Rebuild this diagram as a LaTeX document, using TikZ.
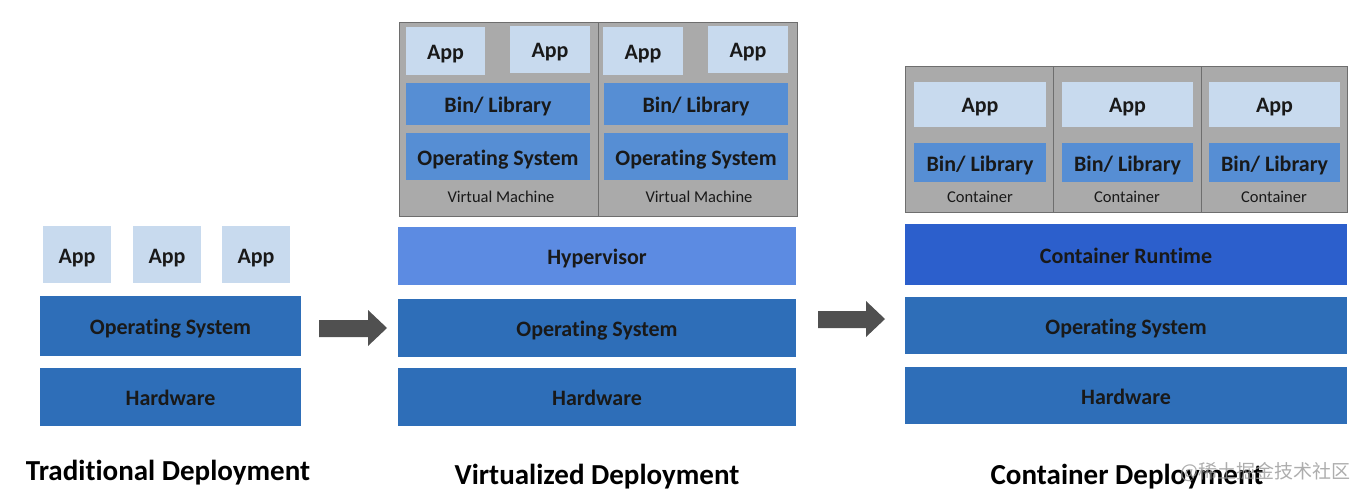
\documentclass[tikz,border=0pt]{standalone}
\usepackage{fontspec}
\setmainfont{Carlito}[Ligatures=NoCommon]
\newfontfamily\cjkfont{Noto Sans CJK SC}
\definecolor{appc}{RGB}{200,218,238}
\definecolor{binc}{RGB}{86,142,212}
\definecolor{osc}{RGB}{46,110,184}
\definecolor{hypc}{RGB}{92,139,226}
\definecolor{rtc}{RGB}{44,95,204}
\definecolor{vmc}{RGB}{170,170,170}
\definecolor{vmline}{RGB}{110,110,110}
\definecolor{arrc}{RGB}{80,80,80}
\begin{document}
\begin{tikzpicture}[x=1pt,y=-1pt,
  blk/.style={anchor=north west,inner sep=0pt,outer sep=0pt,font=\bfseries\fontsize{22}{24}\selectfont,text=black!90,text height=17pt,text depth=0pt},
  appbox/.style={blk,fill=appc},
  binbox/.style={blk,fill=binc},
  osbox/.style={blk,fill=osc},
  hypbox/.style={blk,fill=hypc},
  rtbox/.style={blk,fill=rtc},
  vmbox/.style={anchor=north west,inner sep=0pt,outer sep=0pt,fill=vmc,draw=vmline,line width=0.8pt},
  small/.style={font=\fontsize{16.5}{18}\selectfont,text=black!90,inner sep=0pt},
  title/.style={font=\bfseries\fontsize{29}{32}\selectfont,anchor=base,inner sep=0pt}]
\useasboundingbox (0,0) rectangle (1362,500);
% ---------- Traditional ----------
\node[appbox,minimum width=68,minimum height=57] (ta1) at (43,226) {App};
\node[appbox,minimum width=68,minimum height=57] (ta2) at (133,226) {App};
\node[appbox,minimum width=68,minimum height=57] (ta3) at (222,226) {App};
\node[osbox,minimum width=261,minimum height=60] (tos) at (40,296) {Operating System};
\node[osbox,minimum width=261,minimum height=58] (thw) at (40,368) {Hardware};
\node[title] (tt) at (168,480) {Traditional Deployment};
% arrow 1
\fill[arrc] (319,320) -- (368,320) -- (368,310) -- (387,328) -- (368,346) -- (368,337) -- (319,337) -- cycle;
% ---------- Virtualized ----------
\node[vmbox,minimum width=199,minimum height=194] (vm1) at (399,22) {};
\node[vmbox,minimum width=199,minimum height=194] (vm2) at (598,22) {};
\node[appbox,minimum width=79,minimum height=48] (va1) at (406,27) {App};
\node[appbox,minimum width=80,minimum height=47] (va2) at (510,26) {App};
\node[appbox,minimum width=80,minimum height=48] (va3) at (603,27) {App};
\node[appbox,minimum width=80,minimum height=47] (va4) at (708,26) {App};
\node[binbox,minimum width=184,minimum height=42] (vb1) at (406,83) {Bin/ Library};
\node[binbox,minimum width=184,minimum height=42] (vb2) at (604,83) {Bin/ Library};
\node[binbox,minimum width=184,minimum height=47] (vo1) at (406,133) {Operating System};
\node[binbox,minimum width=184,minimum height=47] (vo2) at (604,133) {Operating System};
\node[small] (vl1) at (501,197) {Virtual Machine};
\node[small] (vl2) at (699,197) {Virtual Machine};
\node[hypbox,minimum width=398,minimum height=58] (vhyp) at (398,227) {Hypervisor};
\node[osbox,minimum width=398,minimum height=58] (vos) at (398,299) {Operating System};
\node[osbox,minimum width=398,minimum height=58] (vhw) at (398,368) {Hardware};
\node[title] (vt) at (597,484) {Virtualized Deployment};
% arrow 2
\fill[arrc] (818,311) -- (866,311) -- (866,301) -- (885,319) -- (866,337) -- (866,328) -- (818,328) -- cycle;
% ---------- Container ----------
\node[vmbox,minimum width=148,minimum height=146] (c1) at (905,66) {};
\node[vmbox,minimum width=148,minimum height=146] (c2) at (1053,66) {};
\node[vmbox,minimum width=146,minimum height=146] (c3) at (1201,66) {};
\node[appbox,minimum width=132,minimum height=45] (ca1) at (914,82) {App};
\node[appbox,minimum width=131,minimum height=45] (ca2) at (1062,82) {App};
\node[appbox,minimum width=131,minimum height=45] (ca3) at (1209,82) {App};
\node[binbox,minimum width=132,minimum height=39] (cb1) at (914,143) {Bin/ Library};
\node[binbox,minimum width=131,minimum height=39] (cb2) at (1062,143) {Bin/ Library};
\node[binbox,minimum width=131,minimum height=39] (cb3) at (1209,143) {Bin/ Library};
\node[small] (cl1) at (980,197) {Container};
\node[small] (cl2) at (1127,197) {Container};
\node[small] (cl3) at (1274,197) {Container};
\node[rtbox,minimum width=442,minimum height=61] (crt) at (905,224) {Container Runtime};
\node[osbox,minimum width=442,minimum height=57] (cos) at (905,297) {Operating System};
\node[osbox,minimum width=442,minimum height=57] (chw) at (905,367) {Hardware};
\node[title] (ct) at (1127,484) {Container Deployment};
\node[font=\cjkfont\fontsize{19}{21}\selectfont,text=black!40,opacity=0.8,inner sep=0pt] (wm) at (1265,472) {@稀土掘金技术社区};
\end{tikzpicture}
\end{document}
